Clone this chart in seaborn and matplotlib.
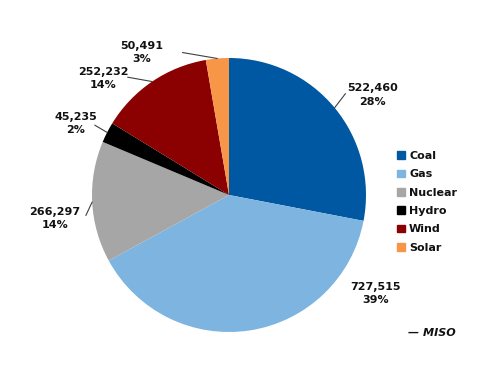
import matplotlib
matplotlib.use("Agg")
import matplotlib.pyplot as plt
import seaborn as sns
import numpy as np

categories = ["Coal", "Gas", "Nuclear", "Hydro", "Wind", "Solar"]
values = [522460, 727515, 266297, 45235, 252232, 50491]
pct_labels = ["28%", "39%", "14%", "2%", "14%", "3%"]
colors = ["#0058A2", "#7DB5E0", "#A6A6A6", "#000000", "#8B0000", "#F79646"]

sns.set_theme(style="white")
plt.rcParams['font.family'] = ['DejaVu Sans']

fig = plt.figure(figsize=(5.0, 3.86), dpi=100)
ax = fig.add_axes([0, 0, 1, 1])

wedges, _ = ax.pie(values, colors=sns.color_palette(colors), startangle=90,
                   counterclock=False, radius=1.0, center=(0, 0),
                   wedgeprops=dict(linewidth=0))

s = 137.0
ax.set_xlim(-229 / s, (500 - 229) / s)
ax.set_ylim(-(386 - 195) / s, 195 / s)
ax.set_aspect('auto')
ax.axis('off')

# label text positions (in radius units) and leader-line end points
text_pos = [(1.05, 0.73), (1.07, -0.72), (-1.27, -0.17), (-1.12, 0.52), (-0.92, 0.85), (-0.64, 1.04)]
leader_end = [(0.85, 0.74), None, (-1.045, -0.15), (-0.98, 0.51), (-0.74, 0.86), (-0.34, 1.04)]

for w, v, p, tp, le in zip(wedges, values, pct_labels, text_pos, leader_end):
    ang = np.deg2rad((w.theta1 + w.theta2) / 2)
    ex, ey = np.cos(ang), np.sin(ang)
    ax.text(tp[0], tp[1], f"{v:,}\n{p}", ha='center', va='center',
            fontsize=8, fontweight='bold', color='#111111', linespacing=1.4)
    if le is not None:
        ax.plot([ex, le[0]], [ey, le[1]], color='#404040', lw=0.8)

handles = [plt.Rectangle((0, 0), 1, 1, color=c) for c in colors]
leg = ax.legend(handles, categories, loc='upper left', bbox_to_anchor=(0.785, 0.62),
                frameon=False, fontsize=8, handlelength=0.7, handleheight=0.7,
                handletextpad=0.4, labelspacing=0.75, borderaxespad=0)
for t in leg.get_texts():
    t.set_fontweight('bold')
    t.set_color('#111111')

fig.text(0.912, 0.138, "— MISO", ha='right', va='center', fontsize=8,
         fontstyle='italic', fontweight='bold', color='#111111')

fig.savefig("out.png", dpi=100, facecolor='white')
